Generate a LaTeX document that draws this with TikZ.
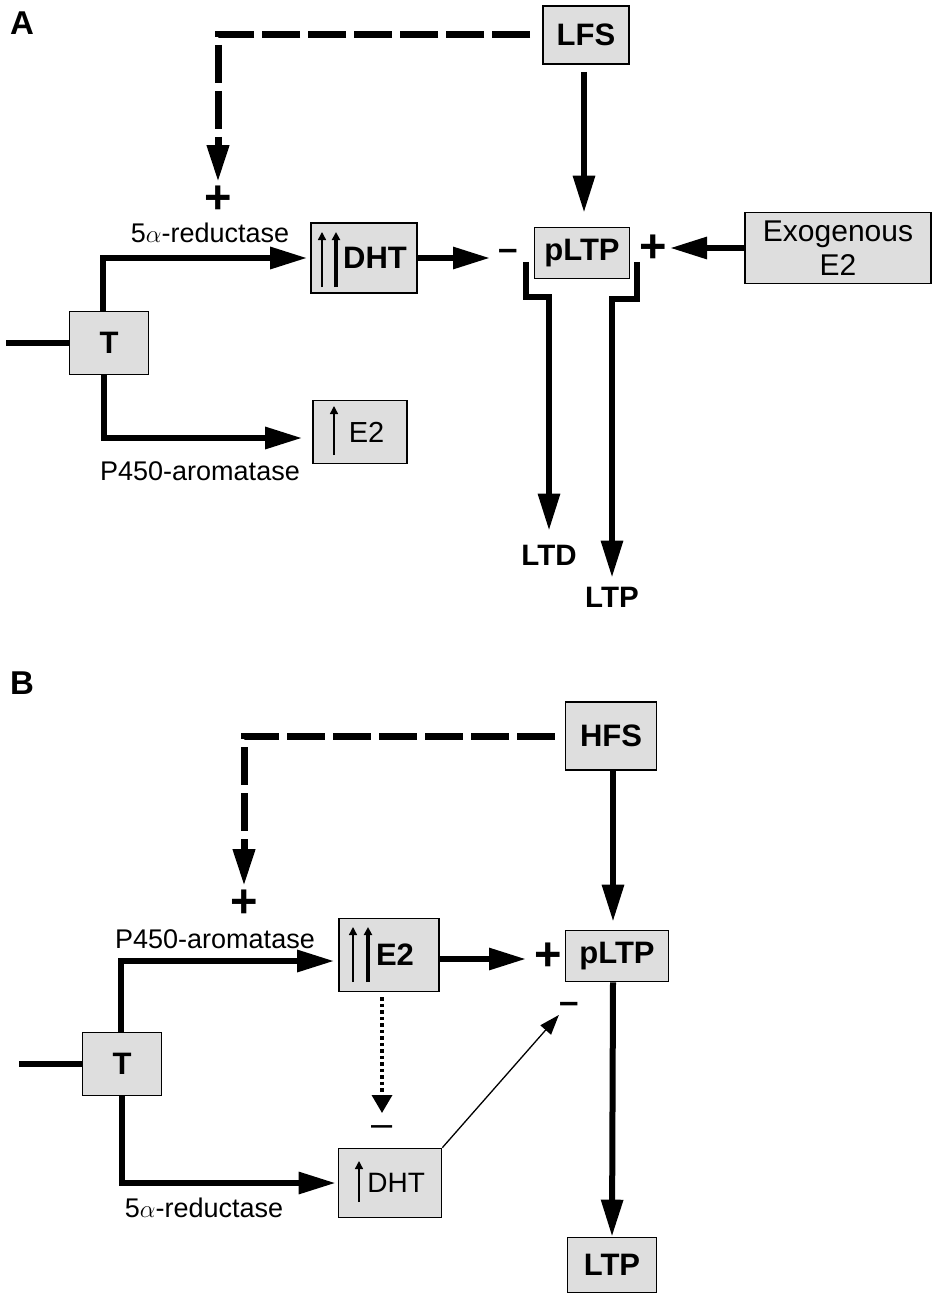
\documentclass[tikz,border=0pt]{standalone}
\usepackage{fontspec}
\setmainfont{Liberation Sans}
\usetikzlibrary{arrows.meta}

\begin{document}
\begin{tikzpicture}[x=1pt, y=-1pt,
   box/.style={draw, line width=1.6pt, fill=black!13, inner sep=0pt, font=\fontsize{29}{31}\selectfont},
   bbox/.style={box, font=\bfseries\fontsize{31}{33}\selectfont},
   lab/.style={inner sep=0pt, font=\fontsize{27}{29}\selectfont},
   blab/.style={inner sep=0pt, font=\bfseries\fontsize{29.5}{31}\selectfont},
   panel/.style={inner sep=0pt, font=\bfseries\fontsize{33}{33}\selectfont},
   sign/.style={inner sep=0pt, anchor=south, font=\bfseries\fontsize{47}{47}\selectfont},
   minus/.style={inner sep=0pt, font=\bfseries\fontsize{35}{35}\selectfont},
   link/.style={line width=6pt},
   conn/.style={line width=6pt, -{Triangle[length=37pt,width=21pt]}},
   dashconn/.style={line width=7pt, dash pattern=on 38pt off 8pt, -{Triangle[length=37pt,width=21pt]}},
   dotconn/.style={line width=3.5pt, dash pattern=on 3.5pt off 3pt, -{Triangle[length=18pt,width=20pt]}},
   thinconn/.style={line width=1.3pt, -{Triangle[length=20pt,width=14pt]}},
   uparrow/.style={line width=#1, -{Triangle[length=8pt,width=8pt]}}]
  \useasboundingbox (0,0) rectangle (937,1300);

  % panel A
  \node[panel] (labA) at (22,23) {A};
  \node[bbox, minimum width=86pt, minimum height=58pt] (lfs) at (586,35) {LFS};
  \node[bbox, minimum width=95pt, minimum height=51pt] (pltpA) at (582,253) {pLTP};
  \node[box, minimum width=186pt, minimum height=71pt, align=center,
        font=\fontsize{30}{34}\selectfont] (exo) at (838,248) {Exogenous\\E2};
  \node[bbox, minimum width=106pt, minimum height=70pt] (dhtA) at (364,258) {\hspace*{25pt}DHT\hspace*{3pt}};
  \node[bbox, minimum width=79pt, minimum height=63pt] (tA) at (109,343) {T};
  \node[box, minimum width=94pt, minimum height=63pt] (etwoA) at (360,432) {\hspace*{18pt}E2\hspace*{5pt}};
  \node[sign] (plusA) at (218,214) {+};
  \node[lab] (redA) at (210,233) {5$\alpha$-reductase};
  \node[lab] (aroA) at (200,471) {P450-aromatase};
  \node[minus] (minA) at (508,255) {\textendash};
  \node[sign, anchor=center] (plusE) at (653,249) {+};
  \node[blab] (ltd) at (549,555) {LTD};
  \node[blab] (ltp) at (612,597) {LTP};
  \coordinate (srcA) at (6,343);

  \draw[link] (srcA) -- (tA.west);
  \draw[conn, shorten >=3pt] ([xshift=-6pt]tA.north) |- (dhtA.west);
  \draw[conn, shorten >=10pt] ([xshift=-5pt]tA.south) |- ([yshift=-6pt]etwoA.west);
  \draw[dashconn, shorten <=12pt] (lfs.west) -| ([yshift=4pt]plusA.north);
  \draw[conn, shorten <=7pt, shorten >=14pt] ([xshift=-2pt]lfs.south) -- ([xshift=2pt]pltpA.north);
  \draw[conn, shorten >=18pt] (dhtA.east) -- (dhtA.east -| minA.center);
  \draw[conn, shorten >=17pt] (exo.west) -- (exo.west -| plusE.center);
  \draw[conn, shorten >=14pt] ([xshift=-7.5pt, yshift=17.5pt]pltpA.south west) -- ++(0,35) -| (ltd.north);
  \draw[conn, shorten >=9pt] ([xshift=7pt, yshift=17.5pt]pltpA.south east) -- ++(0,37) -| (ltp.north);
  \draw[uparrow=1.4pt] (322,287) -- (322,232);
  \draw[uparrow=3.6pt] (336,287) -- (336,232);
  \draw[uparrow=1.4pt] (334,455) -- (334,406);

  % panel B
  \node[panel] (labB) at (22,683) {B};
  \node[bbox, minimum width=91pt, minimum height=68pt] (hfs) at (611,736) {HFS};
  \node[bbox, minimum width=103pt, minimum height=51pt] (pltpB) at (617,956) {pLTP};
  \node[bbox, minimum width=89pt, minimum height=55pt] (ltpB) at (612,1265) {LTP};
  \node[bbox, minimum width=100pt, minimum height=73pt] (etwoB) at (389,955) {\hspace*{27pt}E2\hspace*{15pt}};
  \node[box, minimum width=103pt, minimum height=69pt, font=\fontsize{28}{30}\selectfont] (dhtB) at (390,1183) {\hspace*{13pt}DHT\hspace*{0.5pt}};
  \node[bbox, minimum width=79pt, minimum height=63pt] (tB) at (122,1064) {T};
  \node[sign] (plusF) at (244,918) {+};
  \node[lab] (aroB) at (215,939) {P450-aromatase};
  \node[lab] (redB) at (204,1208) {5$\alpha$-reductase};
  \node[sign, anchor=center] (plusG) at (548,957) {+};
  \node[minus] (minB) at (569,1008) {\textendash};
  \node[inner sep=0pt, font=\fontsize{38}{38}\selectfont] (minDot) at (382,1131) {\textendash};
  \coordinate (srcB) at (19,1064);

  \draw[link] (srcB) -- (tB.west);
  \draw[conn, shorten >=4pt] ([xshift=-1pt]tB.north) |- ([yshift=-6pt]etwoB.west);
  \draw[conn, shorten >=2pt] (tB.south) |- (dhtB.west);
  \draw[dashconn, shorten <=10pt] (hfs.west) -| ([yshift=4pt]plusF.north);
  \draw[conn, shorten >=8pt] ([xshift=2pt]hfs.south) -- ([xshift=2pt]hfs.south |- pltpB.north);
  \draw[conn] ([xshift=-4pt]pltpB.south) -- (ltpB.north);
  \draw[conn, shorten >=22pt] ([yshift=-4pt]etwoB.east) -- ([yshift=-4pt]etwoB.east -| plusG.center);
  \draw[dotconn, shorten <=5pt, shorten >=18pt] ([xshift=-7pt]etwoB.south) -- ([xshift=-7pt]etwoB.south |- minDot.center);
  \draw[thinconn, shorten >=9.3pt] (dhtB.north east) -- ([xshift=-4pt]minB.center);
  \draw[uparrow=1.4pt] (353,982) -- (353,927);
  \draw[uparrow=3.6pt] (368,982) -- (368,927);
  \draw[uparrow=1.4pt] (359,1202) -- (359,1161);
\end{tikzpicture}
\end{document}
